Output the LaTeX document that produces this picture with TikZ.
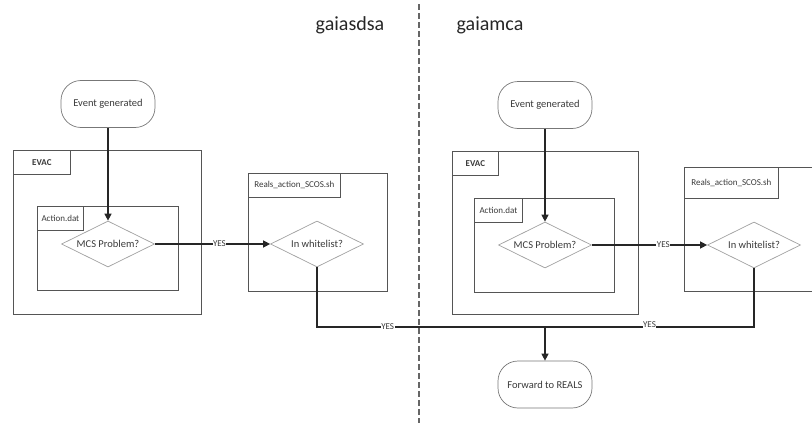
\documentclass[tikz,border=0pt]{standalone}
\usepackage{fontspec}
\setmainfont{Carlito}
\usetikzlibrary{arrows.meta,shapes.geometric}
\definecolor{framec}{HTML}{555555}
\definecolor{diac}{HTML}{A0A0A0}
\definecolor{txtc}{HTML}{3A3A3A}
\tikzset{
  frame/.style={draw=framec, line width=0.8pt, anchor=north west, inner sep=0pt},
  tag/.style={draw=framec, line width=0.8pt, anchor=north west, inner sep=0pt, text=txtc, font=\fontsize{9}{10}\selectfont},
  pill/.style={draw=framec!80, line width=0.7pt, rounded corners=20pt, minimum width=94pt, minimum height=47pt, text=txtc, font=\fontsize{10.5}{12}\selectfont},
  decide/.style={diamond, aspect=2, draw=diac, line width=0.7pt, text=txtc, font=\fontsize{10.5}{12}\selectfont, inner sep=0pt, minimum width=93pt, minimum height=46pt},
  conn/.style={draw=black!85, line width=1.3pt},
  arr/.style={conn, -{Triangle[length=7pt,width=7pt]}},
  lbl/.style={fill=white, inner sep=0.5pt, text=txtc, font=\fontsize{9}{10}\selectfont},
  title/.style={text=black!85, font=\fontsize{20}{24}\selectfont},
  divider/.style={draw=black!60, line width=1.3pt, dash pattern=on 6pt off 3pt}
}
\begin{document}
\begin{tikzpicture}[x=1pt,y=-1pt]
\useasboundingbox (0,0) rectangle (812,423);
\clip (0,0) rectangle (812,423);

% divider and titles
\coordinate (dtop) at (419,4);
\coordinate (dbot) at (419,423);
\draw[divider] (dtop) -- (dbot);
\node[title] (t1) at (350,25) {gaiasdsa};
\node[title] (t2) at (490,25) {gaiamca};

% ---------- left side ----------
\node[frame, minimum width=188pt, minimum height=164pt] (evacL) at (13,150) {};
\node[tag, minimum width=57pt, minimum height=24pt] (evacLt) at (evacL.north west) {\textbf{EVAC}};
\node[frame, minimum width=141pt, minimum height=84pt] (actL) at (37,206) {};
\node[tag, minimum width=46pt, minimum height=24pt] (actLt) at (actL.north west) {Action.dat};
\node[frame, minimum width=139pt, minimum height=118pt] (realsL) at (248,173) {};
\node[tag, minimum width=92pt, minimum height=24pt] (realsLt) at (realsL.north west) {Reals\_action\_SCOS.sh};

\node[pill] (evL) at (108,104) {Event generated};
\node[decide] (mcsL) at (108,244) {MCS Problem?};
\node[decide] (wlL) at (317,244) {In whitelist?};

% ---------- right side ----------
\node[frame, minimum width=186pt, minimum height=163pt] (evacR) at (452,151) {};
\node[tag, minimum width=46pt, minimum height=24pt] (evacRt) at (evacR.north west) {\textbf{EVAC}};
\node[frame, minimum width=140pt, minimum height=94pt] (actR) at (474,198) {};
\node[tag, minimum width=48pt, minimum height=24pt] (actRt) at (actR.north west) {Action.dat};
\node[frame, minimum width=150pt, minimum height=124pt] (realsR) at (684,167) {};
\node[tag, minimum width=94pt, minimum height=31pt] (realsRt) at (realsR.north west) {Reals\_action\_SCOS.sh};

\node[pill] (evR) at (545,105) {Event generated};
\node[decide] (mcsR) at (545,245) {MCS Problem?};
\node[decide] (wlR) at (754,245) {In whitelist?};

\node[pill] (fwd) at (545,384.5) {Forward to REALS};

% ---------- connectors ----------
\draw[arr] (evL.south) -- (mcsL.north);
\draw[arr] (evR.south) -- (mcsR.north);
\draw[arr] (mcsL.east) -- (wlL.west) node[lbl, pos=0.56] {YES};
\draw[arr] (mcsR.east) -- (wlR.west) node[lbl, pos=0.62] {YES};

\coordinate (j) at (545,327);
\coordinate (cL) at (317,327);
\coordinate (cR) at (754,327);
\draw[conn] (wlL.south) -- (cL) -- (j) node[lbl, pos=0.31] {YES};
\draw[conn] (wlR.south) -- (cR) -- (j) node[lbl, pos=0.5, yshift=2.5pt] {YES};
\draw[arr] (j) -- (fwd.north);
\end{tikzpicture}
\end{document}
